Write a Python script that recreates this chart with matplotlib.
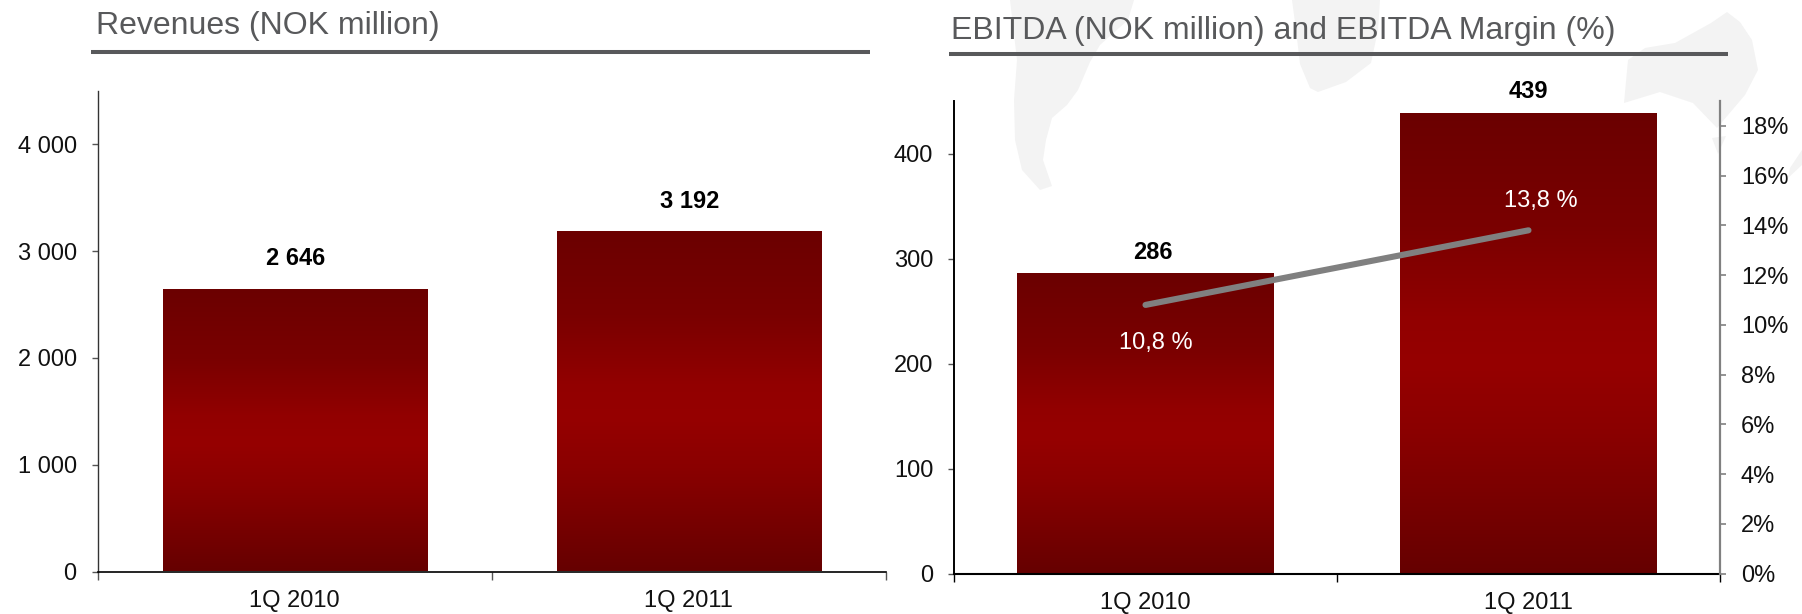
import matplotlib
matplotlib.use("Agg")
import matplotlib.pyplot as plt
import numpy as np
from matplotlib.colors import LinearSegmentedColormap
from matplotlib.patches import Polygon
from matplotlib.transforms import Affine2D

categories = ["1Q 2010", "1Q 2011"]
revenues = [2646, 3192]
revenue_labels = ["2 646", "3 192"]
ebitda = [286, 439]
margin = [10.8, 13.8]
margin_labels = ["10,8 %", "13,8 %"]
revenue_ticks = [0, 1000, 2000, 3000, 4000]
revenue_ticklabels = ["0", "1 000", "2 000", "3 000", "4 000"]
ebitda_ticks = [0, 100, 200, 300, 400]
margin_ticks = list(range(0, 20, 2))

W, H = 1802, 614
plt.rcParams["font.family"] = ["Liberation Sans", "DejaVu Sans"]
fig = plt.figure(figsize=(W / 100, H / 100), dpi=100, facecolor="white")
px = Affine2D().scale(1, -1).translate(0, H)  # top-left pixel coordinates

# faint world map behind the right panel
map_shapes = [
    [(1010, 0), (1134, 0), (1128, 20), (1100, 45), (1090, 62), (1078, 90), (1067, 105), (1052, 118),
     (1046, 140), (1043, 160), (1052, 186), (1040, 190), (1022, 170), (1015, 140), (1014, 100), (1017, 60)],
    [(1292, 0), (1380, 0), (1378, 30), (1371, 63), (1346, 82), (1318, 92), (1310, 88), (1300, 64), (1296, 30)],
    [(1624, 103), (1628, 60), (1645, 48), (1675, 43), (1711, 23), (1727, 12), (1740, 22), (1752, 40), (1758, 70),
     (1745, 95), (1717, 128), (1693, 103), (1660, 92)],
    [(1712, 138), (1726, 136), (1718, 154)],
    [(1802, 150), (1802, 165), (1788, 178), (1790, 168)],
]
for pts in map_shapes:
    fig.add_artist(Polygon(pts, closed=True, transform=px, facecolor="#f3f3f3", edgecolor="none", zorder=-5))

cmap = LinearSegmentedColormap.from_list(
    "bar", [(0, "#6b0000"), (0.25, "#7a0000"), (0.45, "#920000"), (0.55, "#960000"), (0.7, "#8a0000"), (1, "#660000")])
grad = np.linspace(0, 1, 256).reshape(-1, 1)


def make_axes(x0, x1, ytop, ybot):
    ax = fig.add_axes([x0 / W, 1 - ybot / H, (x1 - x0) / W, (ybot - ytop) / H])
    ax.patch.set_alpha(0)
    return ax


def gradient_bars(ax, values, width):
    bars = ax.bar([0, 1], values, width=width, color="none", edgecolor="none", zorder=2)
    for b in bars:
        im = ax.imshow(grad, cmap=cmap, aspect="auto", origin="upper", zorder=2,
                       extent=[b.get_x(), b.get_x() + b.get_width(), 0, b.get_height()])
        im.set_clip_path(b)
    return bars


def style_common(ax, lw_bottom, left_color):
    ax.set_xlim(-0.5, 1.5)
    ax.set_xticks([-0.5, 0.5, 1.5], minor=False)
    ax.set_xticklabels([])
    ax.set_xticks([0, 1], minor=True)
    ax.set_xticklabels(categories, minor=True, fontsize=17, color="#111111")
    ax.tick_params(axis="x", which="major", length=5.5, width=1.0, color="#555555" if lw_bottom < 1.4 else "black")
    ax.tick_params(axis="x", which="minor", length=0, pad=13.5)
    ax.tick_params(axis="y", length=4.5, width=1.0, pad=10.5, labelsize=17, labelcolor="#111111", color="#555555")
    for s in ("top", "right"):
        ax.spines[s].set_visible(False)
    ax.spines["bottom"].set_linewidth(lw_bottom)
    ax.spines["bottom"].set_color("black")
    ax.spines["left"].set_linewidth(1.0)
    ax.spines["left"].set_color(left_color)


def header(text, x_text, y_text, x0, x1, y_line):
    fig.text(x_text / W, 1 - y_text / H, text, fontsize=23, color="#58595b", ha="left", va="center")
    fig.add_artist(plt.Line2D([x0 / W, x1 / W], [1 - y_line / H] * 2, color="#58595b", lw=2.9,
                              solid_capstyle="butt"))


# Left panel
ax1 = make_axes(97.5, 886, 91, 571.5)
gradient_bars(ax1, revenues, 0.67)
style_common(ax1, 1.2, "#333333")
ax1.set_ylim(0, 4500)
ax1.set_yticks(revenue_ticks)
ax1.set_yticklabels(revenue_ticklabels)
for i, (v, lab, off) in enumerate(zip(revenues, revenue_labels, [30, 29.5])):
    ax1.annotate(lab, (i, v), xytext=(1, off), textcoords="offset pixels", ha="center", va="center",
                 fontsize=17, fontweight="bold", color="black", zorder=5)
header("Revenues (NOK million)", 96, 26, 91, 870, 52)

# Right panel
ax2 = make_axes(954, 1720, 101, 573.5)
gradient_bars(ax2, ebitda, 0.67)
style_common(ax2, 1.5, "black")
ax2.spines["left"].set_linewidth(1.4)
ax2.set_ylim(0, 450)
ax2.set_yticks(ebitda_ticks)
for i, (v, lab, off) in enumerate(zip(ebitda, map(str, ebitda), [21, 21.5])):
    ax2.annotate(lab, (i, v), xytext=(7 if i == 0 else 0, off), textcoords="offset pixels", ha="center",
                 va="center", fontsize=17, fontweight="bold", color="black", zorder=5, annotation_clip=False)

ax3 = ax2.twinx()
ax3.patch.set_alpha(0)
ax3.set_ylim(0, 19)
ax3.set_yticks(margin_ticks)
ax3.set_yticklabels([f"{t}%" for t in margin_ticks])
ax3.tick_params(axis="y", length=4.5, width=1.2, pad=10.5, labelsize=17, labelcolor="#111111", color="#808080")
for s in ("top", "left", "bottom"):
    ax3.spines[s].set_visible(False)
ax3.spines["right"].set_color("#808080")
ax3.spines["right"].set_linewidth(1.6)
ax3.plot([0, 1], margin, color="#808080", lw=4.4, solid_capstyle="round", zorder=4)
for i, (v, lab, off) in enumerate(zip(margin, margin_labels, [-38, 29])):
    ax3.annotate(lab, (i, v), xytext=(10 if i == 0 else 12, off), textcoords="offset pixels", ha="center",
                 va="center", fontsize=17, color="white", zorder=5)
header("EBITDA (NOK million) and EBITDA Margin (%)", 951, 31, 949, 1728, 54)

fig.savefig("out.png", dpi=100)
